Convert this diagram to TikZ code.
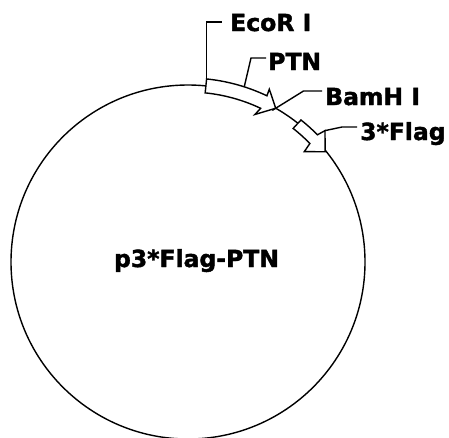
\documentclass[tikz,border=0pt]{standalone}
\usepackage{fontspec}
\setmainfont{DejaVu Sans}
\newfontfamily\lblfont[BoldFeatures={FakeBold=1.6}]{DejaVu Sans}
\usetikzlibrary{calc}
\begin{document}
\begin{tikzpicture}[x=1pt,y=1pt,
  lblf/.style={font=\lblfont\bfseries\fontsize{23.5}{23.5}\selectfont,inner sep=0pt},
  lbl/.style={lblf,anchor=base west},
  ln/.style={line width=1.4pt,line join=miter},
  feat/.style={ln,fill=white}]
\useasboundingbox (0,0) rectangle (449,-437);
\coordinate (c) at (188,-262);
% backbone
\draw[ln] (c) circle[radius=177pt];
% PTN arrow
\draw[feat] ($(c)+(84.2:184)$) coordinate (ptnS)
  arc[start angle=84.2,end angle=64.6,radius=184pt]
  -- ($(c)+(64.8:191)$) -- ($(c)+(60.3:177)$) coordinate (bam)
  -- ($(c)+(65.6:162)$) -- ($(c)+(64.7:170)$)
  arc[start angle=64.7,end angle=84.2,radius=170pt] -- cycle;
% 3*Flag arrow
\draw[feat] ($(c)+(51.5:181.5)$)
  arc[start angle=51.5,end angle=44.5,radius=181.5pt]
  -- ($(c)+(43.8:189.8)$) coordinate (flagB)
  -- ($(c)+(38.8:176)$)
  -- ($(c)+(43.5:160.3)$) -- ($(c)+(44.2:170)$)
  arc[start angle=44.2,end angle=51.8,radius=170pt] -- cycle;
% labels
\node[lbl] (eco) at (230,-31) {EcoR I};
\node[lbl] (ptn) at (268,-70) {PTN};
\node[lbl] (bamh) at (325,-105) {BamH I};
\node[lbl] (flag) at (360,-140) {3*Flag};
\node[lblf,anchor=base] (name) at (196.5,-267) {p3*Flag-PTN};
% leaders
\coordinate (ptnL) at ($(c)+(72.2:184)$);
\draw[ln] (ptnS) -- (ptnS |- 0,-22) -- (222,-22);
\draw[ln] (ptnL) -- (251,-58) -- (266,-58);
\draw[ln] ($(bam)!-4pt!(303.5,-91)$) -- (303.5,-91) -- (322,-91);
\draw[ln] (flagB) -- (342,-127) -- (357,-127);
\end{tikzpicture}
\end{document}
